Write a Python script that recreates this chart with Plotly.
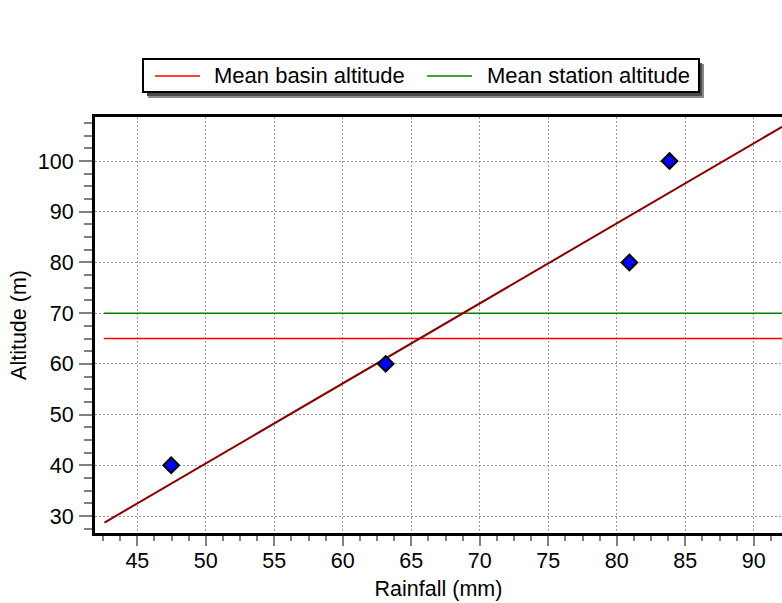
import plotly.graph_objects as go

# ---- data ----
rain_mm = [47.47, 63.13, 80.92, 83.85]
altitude_m = [40, 60, 80, 100]
trend_x = [42.6, 92.1]
trend_y = [28.7, 106.8]
ref_x = [42.55, 92.1]
mean_basin_alt = 65
mean_station_alt = 70
legend_names = ["Mean basin altitude", "Mean station altitude"]
x_ticks = [45, 50, 55, 60, 65, 70, 75, 80, 85, 90]
y_ticks = [30, 40, 50, 60, 70, 80, 90, 100]

W, H = 782, 603
L, R, T, B = 95, 782, 117, 533
FONT = "Arial, Liberation Sans, sans-serif"
FS = 21.5
FS_LEG = 22

def px(x):
    return (x - L) / (R - L)

def py(y):
    return (B - y) / (B - T)

fig = go.Figure()
fig.add_trace(go.Scatter(x=ref_x, y=[mean_basin_alt] * 2, mode="lines",
                         line=dict(color="#ff0000", width=1.5), name=legend_names[0], showlegend=False))
fig.add_trace(go.Scatter(x=ref_x, y=[mean_station_alt] * 2, mode="lines",
                         line=dict(color="#008000", width=1.5), name=legend_names[1], showlegend=False))
fig.add_trace(go.Scatter(x=trend_x, y=trend_y, mode="lines",
                         line=dict(color="#8b0000", width=2), showlegend=False))
fig.add_trace(go.Scatter(x=rain_mm, y=altitude_m, mode="markers",
                         marker=dict(symbol="diamond", size=12, color="#0000ff",
                                     line=dict(color="black", width=2)),
                         showlegend=False))

shapes = []
# legend shadow + box
shapes.append(dict(type="rect", xref="paper", yref="paper",
                   x0=px(148), x1=px(704), y0=py(64), y1=py(98),
                   fillcolor="#8a8a8a", line=dict(width=0), layer="above"))
shapes.append(dict(type="rect", xref="paper", yref="paper",
                   x0=px(147), x1=px(702), y0=py(63), y1=py(96),
                   fillcolor="#4a4a4a", line=dict(width=0), layer="above"))
shapes.append(dict(type="rect", xref="paper", yref="paper",
                   x0=px(143), x1=px(699), y0=py(59), y1=py(92),
                   fillcolor="white", line=dict(color="black", width=2), layer="above"))
shapes.append(dict(type="line", xref="paper", yref="paper",
                   x0=px(155), x1=px(200), y0=py(76), y1=py(76),
                   line=dict(color="#ff0000", width=1.5), layer="above"))
shapes.append(dict(type="line", xref="paper", yref="paper",
                   x0=px(427), x1=px(472), y0=py(76), y1=py(76),
                   line=dict(color="#008000", width=1.5), layer="above"))

annotations = [
    dict(text=legend_names[0], xref="paper", yref="paper", x=px(212), y=py(75.5),
         xanchor="left", yanchor="middle", showarrow=False,
         font=dict(family=FONT, size=FS_LEG, color="black")),
    dict(text=legend_names[1], xref="paper", yref="paper", x=px(485), y=py(75.5),
         xanchor="left", yanchor="middle", showarrow=False,
         font=dict(family=FONT, size=FS_LEG, color="black")),
]

grid = dict(showgrid=True, gridcolor="#9a9a9a", gridwidth=1.2, griddash="1.5px,2.5px")

fig.update_layout(
    width=W, height=H,
    margin=dict(l=L, r=W - R, t=T, b=H - B, pad=0),
    paper_bgcolor="white", plot_bgcolor="white",
    font=dict(family=FONT, size=FS, color="black"),
    shapes=shapes, annotations=annotations,
    xaxis=dict(range=[41.91, 92.06], tickvals=x_ticks, ticks="outside", ticklen=10,
               tickwidth=2, tickcolor="#808080", showline=True, linecolor="black",
               linewidth=3, mirror=True, zeroline=False,
               minor=dict(dtick=1.25, tick0=45, ticks="outside", ticklen=5,
                          tickwidth=1.5, tickcolor="#808080", showgrid=False),
               tickfont=dict(size=FS), ticklabelstandoff=-4,
               title=dict(text="Rainfall (mm)", font=dict(size=FS), standoff=10),
               **grid),
    yaxis=dict(range=[26.65, 108.68], tickvals=y_ticks, ticks="outside", ticklen=13,
               tickwidth=2, tickcolor="#808080", showline=True, linecolor="black",
               linewidth=3, mirror=False, zeroline=False,
               minor=dict(dtick=2.5, tick0=30, ticks="outside", ticklen=8,
                          tickwidth=1.5, tickcolor="#808080", showgrid=False),
               tickfont=dict(size=FS), ticklabelstandoff=1,
               title=dict(text="Altitude (m)", font=dict(size=FS), standoff=6),
               **grid),
)

fig.write_html("out.html", config={"displayModeBar": False},
               post_script="document.body.style.margin='0px';document.body.style.overflow='hidden';")
